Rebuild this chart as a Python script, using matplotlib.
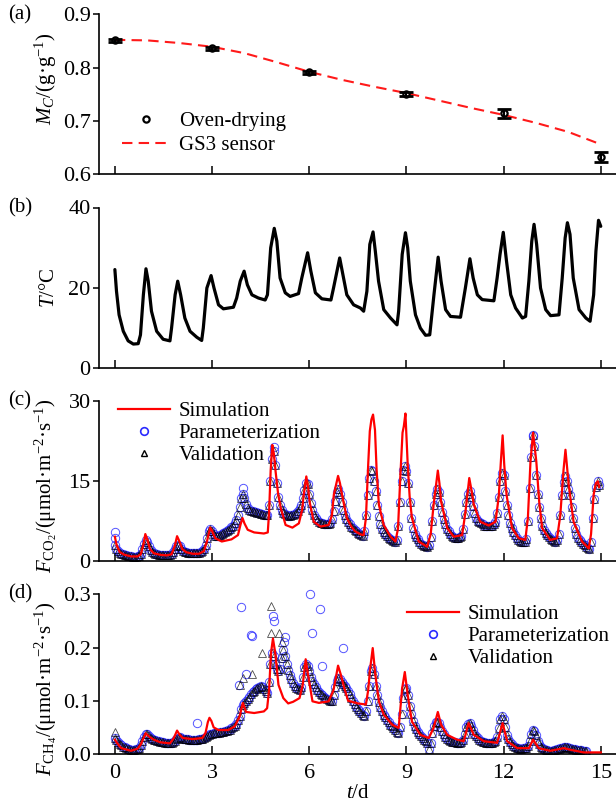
import numpy as np
import matplotlib
matplotlib.use("Agg")
import matplotlib.pyplot as plt
from matplotlib.lines import Line2D

plt.rcParams['font.family'] = ['Liberation Serif', 'DejaVu Serif']
plt.rcParams['mathtext.fontset'] = 'custom'
plt.rcParams['mathtext.rm'] = 'Liberation Serif'
plt.rcParams['mathtext.it'] = 'Liberation Serif:italic'
plt.rcParams['font.size'] = 15

# (a) moisture content
day_mc = [0, 3, 6, 9, 12, 15]
mc_oven = [0.851, 0.836, 0.791, 0.750, 0.714, 0.632]
mc_err = [0.003, 0.003, 0.003, 0.004, 0.008, 0.010]
day_gs3 = [0, 1, 2, 3, 4, 5, 6, 7, 8, 9, 10, 11, 12, 13, 14, 14.9]
mc_gs3 = [0.852, 0.851, 0.846, 0.839, 0.827, 0.810, 0.792, 0.777, 0.764, 0.752,
          0.738, 0.724, 0.711, 0.696, 0.679, 0.658]

# (b) temperature
day_t = [0.0, 0.05, 0.13, 0.26, 0.41, 0.57, 0.72, 0.79, 0.88, 0.96, 1.03, 1.13, 1.29, 1.49,
         1.70, 1.75, 1.86, 1.94, 2.03, 2.16, 2.32, 2.53, 2.68, 2.73, 2.84, 2.97, 3.06, 3.20,
         3.35, 3.66, 3.76, 3.87, 3.99, 4.09, 4.23, 4.43, 4.64, 4.71, 4.81, 4.92, 5.00, 5.10,
         5.26, 5.41, 5.67, 5.77, 5.95, 6.05, 6.19, 6.39, 6.67, 6.75, 6.94, 7.04, 7.16, 7.37,
         7.58, 7.68, 7.78, 7.87, 7.97, 8.04, 8.14, 8.30, 8.51, 8.71, 8.76, 8.87, 8.97, 9.04,
         9.12, 9.28, 9.43, 9.59, 9.72, 9.85, 9.98, 10.07, 10.21, 10.36, 10.67, 10.82, 10.96,
         11.06, 11.19, 11.34, 11.70, 11.80, 11.89, 11.99, 12.09, 12.22, 12.37, 12.58, 12.68,
         12.78, 12.87, 12.94, 13.02, 13.14, 13.30, 13.45, 13.71, 13.81, 13.90, 13.97, 14.05,
         14.15, 14.33, 14.54, 14.67, 14.78, 14.85, 14.93, 15.0]
temp = [24.5, 19.1, 13.2, 9.1, 6.7, 5.9, 6.0, 8.2, 18.2, 24.7, 21.6, 14.1, 9.1, 7.1,
        6.7, 9.9, 18.2, 21.6, 18.2, 12.4, 9.1, 7.6, 6.8, 9.9, 19.9, 23.0, 19.9, 15.7,
        14.7, 15.1, 17.4, 21.6, 24.1, 20.7, 18.2, 17.4, 16.9, 18.2, 29.9, 34.8, 31.6, 22.4,
        18.7, 17.8, 18.5, 22.4, 28.7, 24.1, 18.7, 17.2, 16.9, 19.9, 27.4, 23.2, 18.2, 15.7,
        14.9, 14.1, 19.1, 30.8, 33.9, 29.1, 21.6, 14.5, 12.4, 10.7, 14.1, 28.3, 33.7, 29.9,
        21.6, 13.2, 9.9, 8.1, 8.2, 18.2, 27.6, 21.6, 14.5, 12.8, 12.6, 19.9, 27.2,
        22.4, 18.2, 17.0, 16.7, 22.4, 28.3, 33.8, 26.6, 18.2, 14.9, 12.4, 12.8,
        21.6, 31.6, 35.8, 30.8, 19.9, 14.5, 13.0, 13.2, 22.4, 32.4, 36.2, 33.3,
        22.4, 14.5, 12.4, 11.6, 18.2, 29.1, 36.8, 35.3]

# (c) CO2 flux, observed every 0.05 d from day 0
obs_step = 0.05
co2_obs = [
    3.0, 2.2, 1.8, 1.5, 1.3, 1.2, 1.1, 1.0, 0.9, 0.8, 0.8, 0.7, 0.7, 0.7, 0.8, 0.9, 1.3, 2.2, 3.2, 3.8,
    3.6, 2.8, 2.0, 1.6, 1.4, 1.3, 1.2, 1.1, 1.1, 1.0, 1.0, 1.0, 1.0, 1.0, 1.1, 1.3, 1.7, 2.2, 2.7, 2.9,
    2.7, 2.2, 1.9, 1.7, 1.6, 1.5, 1.5, 1.4, 1.4, 1.4, 1.4, 1.4, 1.5, 1.6, 1.8, 2.2, 3.0, 4.2, 5.5, 6.0,
    5.6, 5.0, 4.7, 4.6, 4.7, 4.8, 5.0, 5.2, 5.4, 5.6, 5.8, 6.0, 6.3, 6.6, 7.0, 7.6, 8.5, 10.0, 11.8, 12.5,
    11.8, 10.6, 9.8, 9.5, 9.4, 9.3, 9.2, 9.1, 9.0, 8.9, 8.8, 8.7, 8.6, 8.5, 8.6, 10.5, 15.0, 19.0, 20.5, 18.0,
    14.5, 12.0, 10.5, 9.6, 9.0, 8.7, 8.5, 8.4, 8.4, 8.5, 8.6, 8.8, 9.0, 9.3, 9.8, 10.5, 11.8, 13.2, 14.5, 14.3,
    12.5, 10.8, 9.5, 8.6, 8.0, 7.6, 7.3, 7.1, 7.0, 6.9, 6.8, 6.8, 6.8, 7.0, 7.8, 9.4, 11.2, 12.8, 13.5, 12.6,
    11.0, 9.6, 8.6, 7.8, 7.3, 6.8, 6.4, 6.1, 5.8, 5.5, 5.2, 5.0, 4.8, 4.7, 5.5, 8.5, 12.4, 15.5, 17.0, 16.8,
    15.0, 13.0, 10.5, 8.3, 6.9, 6.0, 5.4, 5.0, 4.6, 4.3, 4.0, 3.8, 3.7, 3.6, 3.8, 6.5, 11.0, 15.0, 17.0, 17.7,
    16.8, 14.5, 11.0, 8.0, 6.2, 5.1, 4.5, 4.0, 3.6, 3.2, 3.0, 2.8, 2.7, 2.6, 2.9, 4.5, 7.5, 10.5, 12.5, 13.5,
    12.8, 11.0, 9.2, 7.8, 6.8, 6.0, 5.5, 5.0, 4.6, 4.4, 4.2, 4.2, 4.3, 4.4, 4.6, 6.0, 8.8, 11.1, 12.5, 13.0,
    12.0, 10.3, 8.9, 8.0, 7.5, 7.2, 7.0, 6.8, 6.6, 6.5, 6.5, 6.5, 6.5, 6.6, 6.8, 7.2, 9.0, 12.0, 14.9, 16.5,
    16.0, 13.0, 10.5, 8.5, 7.0, 6.1, 5.4, 4.8, 4.3, 3.9, 3.7, 3.6, 3.6, 3.6, 4.0, 7.5, 13.6, 19.5, 23.5, 21.5,
    16.1, 12.5, 10.0, 8.0, 6.6, 5.7, 5.2, 4.8, 4.4, 4.1, 3.9, 3.7, 3.6, 3.8, 5.0, 8.5, 12.4, 14.8, 15.8, 15.0,
    13.5, 12.4, 10.0, 8.0, 6.1, 5.0, 4.3, 3.9, 3.6, 3.2, 2.9, 2.6, 2.3, 2.2, 3.5, 8.0, 11.5, 13.8, 14.9, 14.2,
]
co2_out_day = [0.0, 0.0, 3.97, 4.9, 12.9]
co2_out = [5.4, 4.3, 13.6, 21.3, 23.3]

day_co2_sim = [0.0, 0.05, 0.15, 0.3, 0.5, 0.7, 0.8, 0.88, 0.94, 1.0, 1.08, 1.2, 1.4, 1.6, 1.75,
               1.85, 1.92, 1.98, 2.08, 2.2, 2.4, 2.6, 2.75, 2.85, 2.94, 3.0, 3.1, 3.3, 3.6, 3.8,
               3.88, 3.94, 4.0, 4.1, 4.3, 4.6, 4.72, 4.76, 4.81, 4.86, 4.91, 4.96, 5.04, 5.12,
               5.27, 5.48, 5.68, 5.78, 5.83, 5.91, 5.97, 6.01, 6.14, 6.35, 6.6, 6.7, 6.76, 6.89,
               6.95, 7.01, 7.16, 7.3, 7.42, 7.6, 7.68, 7.75, 7.82, 7.87, 7.92, 7.97, 8.03, 8.08,
               8.15, 8.3, 8.51, 8.66, 8.74, 8.81, 8.88, 8.92, 8.97, 9.04, 9.1, 9.17, 9.38, 9.64,
               9.75, 9.84, 9.97, 10.02, 10.07, 10.26, 10.46, 10.72, 10.82, 10.94, 11.0, 11.08,
               11.28, 11.54, 11.75, 11.85, 11.92, 11.97, 12.02, 12.09, 12.26, 12.47, 12.67, 12.75,
               12.83, 12.91, 13.01, 13.1, 13.19, 13.44, 13.65, 13.75, 13.85, 13.91, 14.01, 14.16,
               14.42, 14.63, 14.7, 14.78, 14.85, 14.91, 14.95]
co2_sim = [4.5, 3.0, 1.6, 1.1, 0.8, 0.8, 1.2, 3.0, 5.0, 4.0, 2.2, 1.4, 1.1, 1.0, 1.2,
           2.8, 4.6, 3.8, 2.2, 1.6, 1.3, 1.3, 1.8, 3.8, 6.2, 5.6, 4.2, 3.6, 4.0, 4.8,
           6.8, 8.0, 7.0, 5.8, 5.3, 5.1, 5.3, 9.0, 17.0, 21.7, 20.0, 16.8, 12.5, 9.9,
           6.7, 6.2, 7.0, 9.5, 12.4, 15.8, 13.5, 11.1, 7.3, 6.4, 6.7, 8.5, 12.4, 15.9,
           14.5, 12.4, 8.0, 6.4, 5.5, 4.9, 4.8, 8.0, 18.0, 24.3, 26.5, 27.4, 24.5, 17.0,
           10.5, 6.7, 4.5, 3.6, 6.0, 15.5, 24.0, 25.2, 27.6, 18.0, 12.0, 8.0, 3.6, 2.6,
           5.0, 10.5, 16.9, 14.5, 11.1, 6.1, 4.5, 4.8, 9.0, 15.5, 13.5, 10.5,
           7.3, 6.6, 7.3, 12.0, 19.0, 23.5, 18.0, 12.4, 6.1, 4.2, 3.9, 8.0,
           18.6, 24.0, 18.6, 11.0, 6.1, 3.9, 4.2, 8.5, 17.0, 20.8, 14.2, 7.3,
           3.6, 2.3, 5.0, 12.4, 14.5, 14.9, 13.8]

# (d) CH4 flux, observed every 0.05 d from day 0
ch4_obs = [
    0.030, 0.026, 0.022, 0.019, 0.016, 0.014, 0.013, 0.011, 0.010, 0.009, 0.008, 0.008, 0.008, 0.009, 0.010, 0.012, 0.016, 0.024, 0.032, 0.037,
    0.038, 0.034, 0.030, 0.028, 0.027, 0.026, 0.025, 0.024, 0.023, 0.022, 0.022, 0.021, 0.021, 0.020, 0.020, 0.021, 0.022, 0.025, 0.028, 0.030,
    0.031, 0.030, 0.029, 0.028, 0.028, 0.028, 0.027, 0.027, 0.027, 0.027, 0.027, 0.027, 0.028, 0.028, 0.029, 0.030, 0.031, 0.033, 0.035, 0.037,
    0.038, 0.039, 0.039, 0.040, 0.040, 0.041, 0.041, 0.042, 0.043, 0.044, 0.045, 0.046, 0.048, 0.050, 0.053, 0.057, 0.063, 0.072, 0.085, 0.092,
    0.095, 0.100, 0.104, 0.108, 0.112, 0.116, 0.119, 0.122, 0.124, 0.126, 0.127, 0.126, 0.122, 0.118, 0.115, 0.135, 0.170, 0.190, 0.185, 0.170,
    0.160, 0.155, 0.160, 0.180, 0.195, 0.185, 0.170, 0.158, 0.148, 0.140, 0.133, 0.128, 0.124, 0.122, 0.120, 0.125, 0.145, 0.163, 0.170, 0.166,
    0.155, 0.145, 0.138, 0.132, 0.126, 0.121, 0.117, 0.113, 0.110, 0.107, 0.105, 0.103, 0.101, 0.100, 0.100, 0.110, 0.125, 0.138, 0.142, 0.140,
    0.136, 0.132, 0.128, 0.124, 0.118, 0.112, 0.105, 0.099, 0.093, 0.088, 0.084, 0.080, 0.077, 0.074, 0.072, 0.080, 0.100, 0.128, 0.155, 0.162,
    0.150, 0.128, 0.111, 0.098, 0.088, 0.080, 0.074, 0.069, 0.064, 0.060, 0.055, 0.052, 0.049, 0.045, 0.042, 0.040, 0.050, 0.075, 0.105, 0.122,
    0.124, 0.110, 0.090, 0.075, 0.062, 0.053, 0.047, 0.042, 0.037, 0.033, 0.030, 0.027, 0.025, 0.020, 0.010, 0.020, 0.040, 0.052, 0.060, 0.061,
    0.058, 0.050, 0.043, 0.037, 0.032, 0.029, 0.026, 0.024, 0.023, 0.022, 0.022, 0.021, 0.021, 0.021, 0.022, 0.026, 0.038, 0.050, 0.057, 0.058,
    0.052, 0.045, 0.038, 0.033, 0.030, 0.027, 0.025, 0.023, 0.022, 0.021, 0.021, 0.021, 0.021, 0.021, 0.022, 0.024, 0.032, 0.048, 0.065, 0.071,
    0.065, 0.050, 0.036, 0.028, 0.022, 0.018, 0.015, 0.013, 0.011, 0.011, 0.010, 0.010, 0.011, 0.011, 0.012, 0.015, 0.025, 0.038, 0.046, 0.044,
    0.035, 0.025, 0.018, 0.014, 0.011, 0.009, 0.008, 0.007, 0.006, 0.006, 0.006, 0.007, 0.008, 0.009, 0.010, 0.011, 0.012, 0.013, 0.013, 0.013,
    0.012, 0.011, 0.010, 0.009, 0.009, 0.008, 0.008, 0.007, 0.007, 0.006, 0.006, 0.005,
]
ch4_par_out_day = [3.89, 4.20, 4.22, 2.53, 6.01, 6.32, 6.09, 7.04, 6.38, 4.88, 4.90, 3.84, 5.25, 5.22, 4.05]
ch4_par_out = [0.277, 0.224, 0.222, 0.058, 0.301, 0.273, 0.227, 0.200, 0.166, 0.260, 0.250, 0.130, 0.220, 0.210, 0.150]
ch4_val_out_day = [4.83, 4.81, 5.07, 4.55, 3.97, 4.23, 3.85, 0.0, 5.15]
ch4_val_out = [0.278, 0.227, 0.227, 0.190, 0.143, 0.150, 0.130, 0.041, 0.210]

day_ch4_sim = [0.0, 0.1, 0.2, 0.5, 0.7, 0.8, 0.9, 0.95, 1.05, 1.2, 1.4, 1.7, 1.82, 1.92, 2.0, 2.1,
               2.4, 2.7, 2.8, 2.87, 2.92, 2.98, 3.05, 3.2, 3.5, 3.7, 3.85, 3.95, 4.05, 4.3, 4.6,
               4.7, 4.76, 4.82, 4.88, 4.95, 5.05, 5.2, 5.35, 5.5, 5.7, 5.8, 5.89, 5.96, 6.1, 6.3,
               6.6, 6.75, 6.89, 6.97, 7.1, 7.2, 7.5, 7.75, 7.82, 7.88, 7.96, 8.04, 8.15, 8.30,
               8.56, 8.76, 8.87, 8.95, 9.04, 9.17, 9.43, 9.69, 9.84, 9.97, 10.07, 10.26, 10.56,
               10.77, 10.92, 11.08, 11.39, 11.8, 11.97, 12.11, 12.42, 12.78, 12.91, 13.08, 13.44,
               13.86, 14.06, 14.47, 15.0]
ch4_sim = [0.027, 0.018, 0.011, 0.006, 0.010, 0.018, 0.032, 0.039, 0.033, 0.027, 0.022, 0.020, 0.030, 0.044, 0.036, 0.030,
           0.028, 0.030, 0.040, 0.060, 0.068, 0.062, 0.050, 0.045, 0.045, 0.052, 0.070, 0.096, 0.079, 0.077, 0.080,
           0.086, 0.120, 0.190, 0.217, 0.190, 0.130, 0.105, 0.095, 0.098, 0.105, 0.130, 0.178, 0.150, 0.099, 0.096,
           0.099, 0.120, 0.166, 0.150, 0.120, 0.100, 0.095, 0.093, 0.120, 0.160, 0.199, 0.149, 0.099, 0.074,
           0.055, 0.049, 0.124, 0.154, 0.111, 0.061, 0.036, 0.030, 0.049, 0.079, 0.055, 0.036, 0.027,
           0.024, 0.058, 0.036, 0.024, 0.021, 0.058, 0.024, 0.011, 0.011, 0.027, 0.011, 0.006,
           0.011, 0.008, 0.003, 0.003]

day_ticks = [0, 3, 6, 9, 12, 15]

W, H = 616, 807
fig = plt.figure(figsize=(W / 100, H / 100), dpi=100)

def make_axes(top_px, bottom_px):
    ax = fig.add_axes([99 / W, 1 - bottom_px / H, (W - 99) / W, (bottom_px - top_px) / H])
    ax.spines['top'].set_visible(False)
    ax.spines['right'].set_visible(False)
    ax.spines['left'].set_linewidth(1.2)
    ax.spines['bottom'].set_linewidth(1.2)
    ax.set_xlim(-0.49, 15.47)
    ax.set_xticks(day_ticks)
    ax.tick_params(axis='x', direction='in', length=6, width=1.1, pad=7)
    ax.tick_params(axis='y', direction='out', length=4, width=1.1, pad=2)
    ax.tick_params(labelsize=16)
    return ax

ax_a = make_axes(14.3, 174)
ax_b = make_axes(207.5, 367.7)
ax_c = make_axes(400.7, 560.7)
ax_d = make_axes(594.3, 754)

# (a)
ax_a.plot(day_gs3, mc_gs3, color='#ff1a1a', lw=1.5, dashes=(5, 3), label='GS3 sensor', zorder=2)
ax_a.errorbar(day_mc, mc_oven, yerr=mc_err, fmt='none', ecolor='black', elinewidth=1.5,
              capsize=5, capthick=2, zorder=3)
ax_a.plot(day_mc, mc_oven, 'o', ms=4.5, mfc='none', mec='black', mew=1.6,
          label='Oven-drying', zorder=4)
ax_a.set_ylim(0.6, 0.9)
ax_a.set_yticks([0.6, 0.7, 0.8, 0.9])
ax_a.set_yticklabels(['0.6', '0.7', '0.8', '0.9'])
ax_a.set_xticklabels([])
ax_a.set_ylabel(r'$M_C$/(g·g$^{-1}$)', fontsize=15)
ax_a.yaxis.set_label_coords(-0.078, 0.6)
h, l = ax_a.get_legend_handles_labels()
ax_a.legend([h[1], h[0]], [l[1], l[0]], loc='upper left', bbox_to_anchor=(0.044, 0.39),
            frameon=False, fontsize=15, handlelength=2.3, handletextpad=0.45,
            borderpad=0, borderaxespad=0, labelspacing=0.22, numpoints=1)

# (b)
ax_b.plot(day_t, temp, color='black', lw=2.3, solid_capstyle='round', solid_joinstyle='round')
ax_b.set_ylim(0, 40)
ax_b.set_yticks([0, 20, 40])
ax_b.set_xticklabels([])
ax_b.set_ylabel(r'$T$/°C', fontsize=15)
ax_b.yaxis.set_label_coords(-0.078, 0.5)

# (c)
t_co2 = np.arange(len(co2_obs)) * obs_step
blue = '#2a2aff'
ax_c.plot(t_co2, co2_obs, 'o', ms=6, mfc='none', mec=blue, mew=0.7, alpha=0.8,
          label='Parameterization', zorder=2)
ax_c.plot(co2_out_day, co2_out, 'o', ms=6, mfc='none', mec=blue, mew=0.7, alpha=0.8, zorder=2)
ax_c.plot(t_co2, co2_obs, '^', ms=5.5, mfc='none', mec='black', mew=0.6, alpha=0.7,
          label='Validation', zorder=3)
ax_c.plot(day_co2_sim, co2_sim, color='#ff0000', lw=1.6, label='Simulation', zorder=4)
ax_c.set_ylim(0, 30)
ax_c.set_yticks([0, 15, 30])
ax_c.set_xticklabels([])
ax_c.set_ylabel(r'$F_{\mathrm{CO}_2}$/(μmol·m$^{-2}$·s$^{-1}$)', fontsize=15)
ax_c.yaxis.set_label_coords(-0.078, 0.47)
leg_handles = [Line2D([], [], color='#ff0000', lw=1.6),
               Line2D([], [], ls='none', marker='o', ms=5.5, mfc='none', mec=blue, mew=1.2),
               Line2D([], [], ls='none', marker='^', ms=5, mfc='none', mec='black', mew=1.0)]
leg_labels = ['Simulation', 'Parameterization', 'Validation']
ax_c.legend(leg_handles, leg_labels, loc='upper left', bbox_to_anchor=(0.037, 0.995),
            frameon=False, fontsize=15, handlelength=2.5, handletextpad=0.4,
            borderpad=0, borderaxespad=0, labelspacing=0.12, numpoints=1)

# (d)
t_ch4 = np.arange(len(ch4_obs)) * obs_step
ax_d.plot(t_ch4, ch4_obs, 'o', ms=6, mfc='none', mec=blue, mew=0.7, alpha=0.8, zorder=2)
ax_d.plot(ch4_par_out_day, ch4_par_out, 'o', ms=6, mfc='none', mec=blue, mew=0.7, alpha=0.8,
          zorder=2, clip_on=False)
ax_d.plot(t_ch4, ch4_obs, '^', ms=5.5, mfc='none', mec='black', mew=0.6, alpha=0.7, zorder=3)
ax_d.plot(ch4_val_out_day, ch4_val_out, '^', ms=5.5, mfc='none', mec='black', mew=0.6, alpha=0.7,
          zorder=3)
ax_d.plot(day_ch4_sim, ch4_sim, color='#ff0000', lw=1.6, zorder=4)
ax_d.set_ylim(0, 0.3)
ax_d.set_yticks([0.0, 0.1, 0.2, 0.3])
ax_d.set_yticklabels(['0.0', '0.1', '0.2', '0.3'])
ax_d.set_xticklabels([str(d) for d in day_ticks])
ax_d.set_ylabel(r'$F_{\mathrm{CH}_4}$/(μmol·m$^{-2}$·s$^{-1}$)', fontsize=15)
ax_d.yaxis.set_label_coords(-0.078, 0.41)
ax_d.set_xlabel(r'$t$/d', fontsize=15, labelpad=1)
ax_d.legend(leg_handles, leg_labels, loc='upper left', bbox_to_anchor=(0.596, 0.935),
            frameon=False, fontsize=15, handlelength=2.5, handletextpad=0.4,
            borderpad=0, borderaxespad=0, labelspacing=0.12, numpoints=1)

# panel letters
for lab, y_px in [('(a)', 15), ('(b)', 208), ('(c)', 401), ('(d)', 594)]:
    fig.text(8 / W, 1 - y_px / H, lab, fontsize=15, ha='left', va='center')

fig.savefig('out.png', dpi=100)
